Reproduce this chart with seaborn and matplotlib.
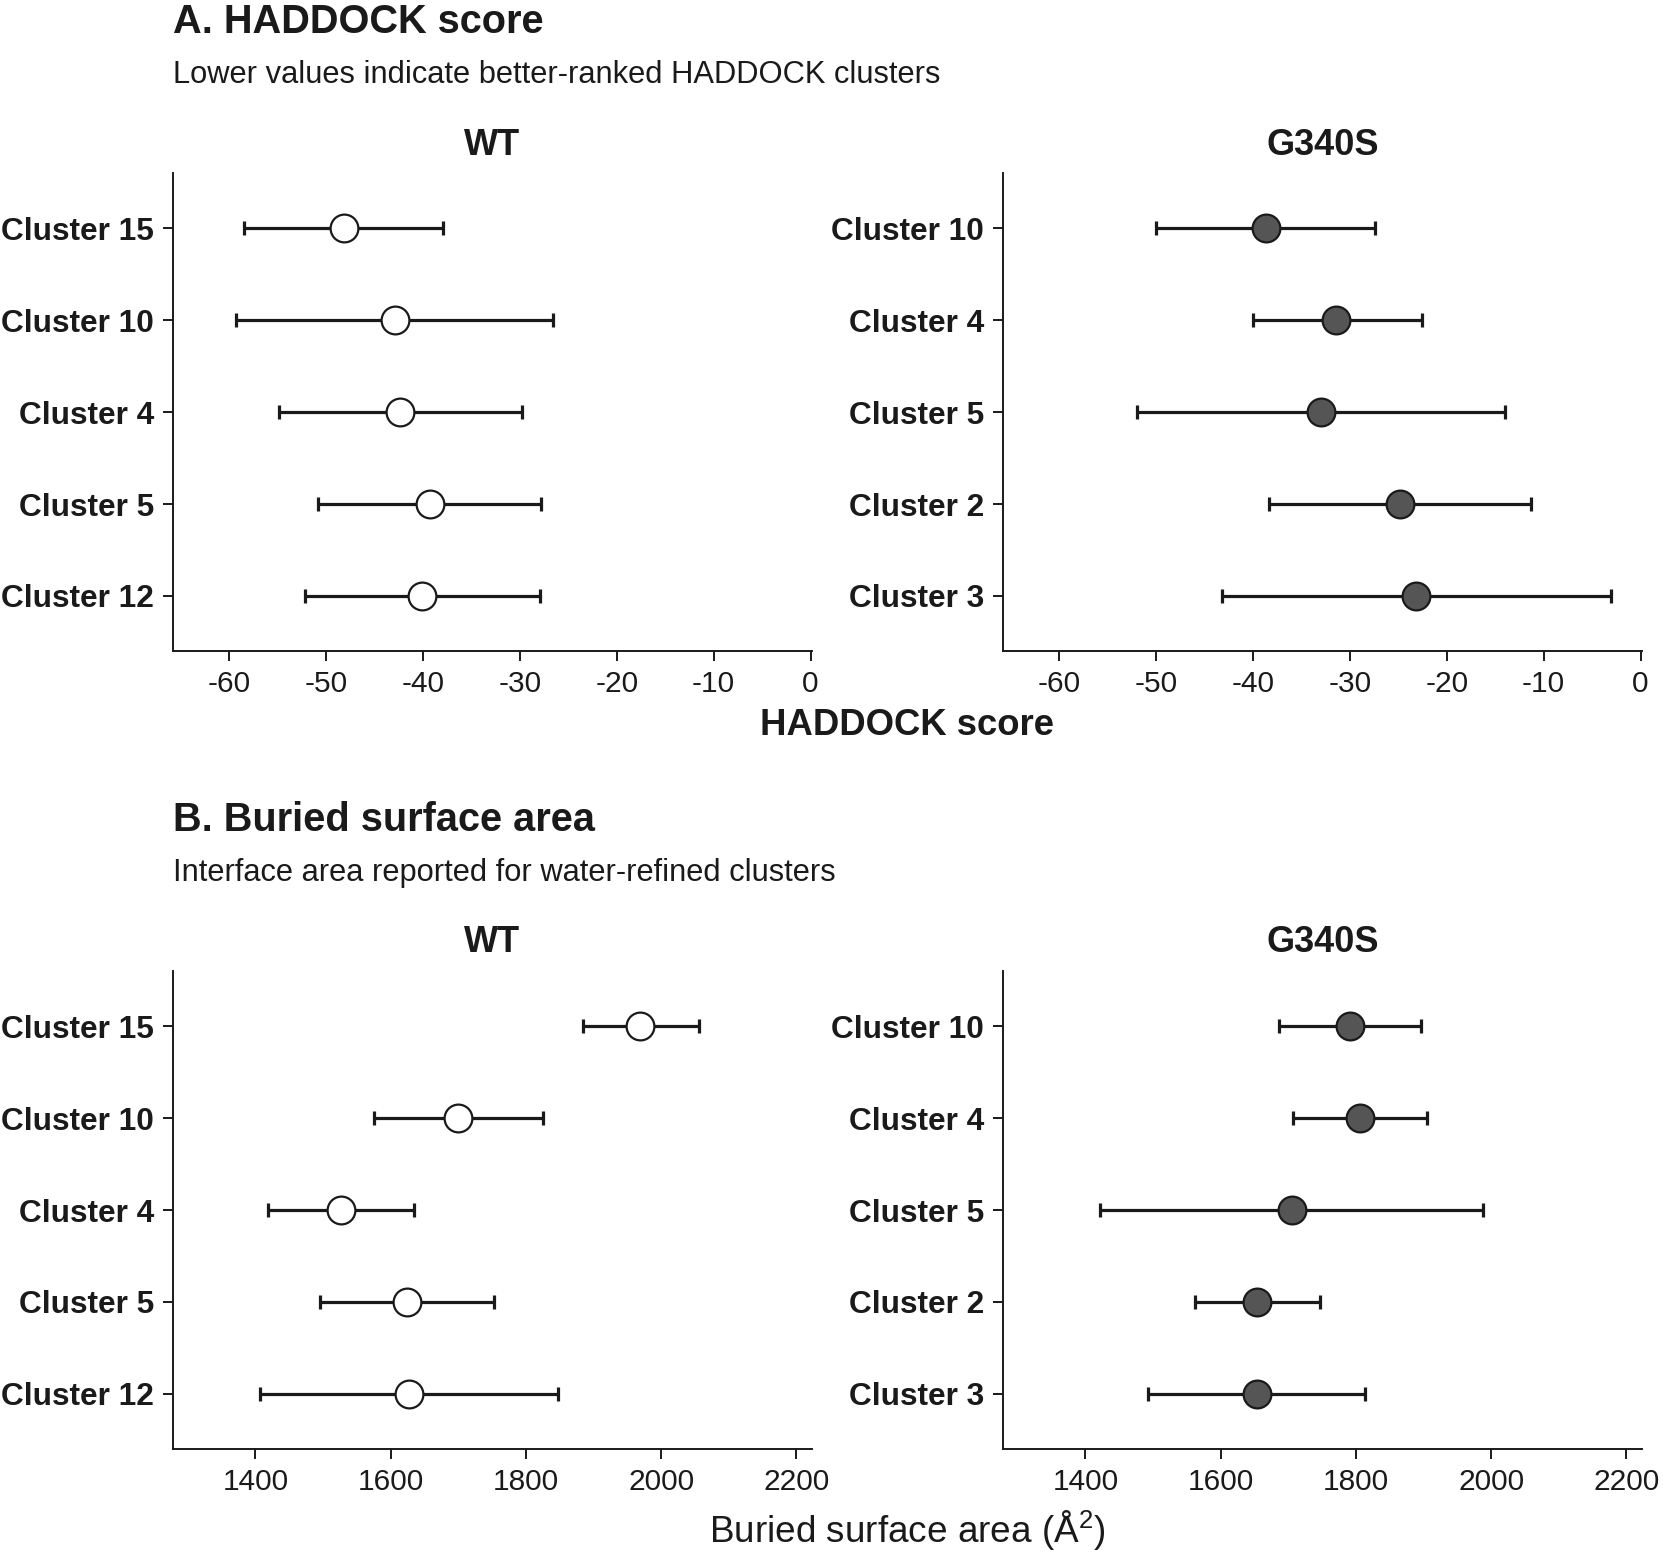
import numpy as np
import pandas as pd
import matplotlib
matplotlib.use("Agg")
import matplotlib.pyplot as plt
import seaborn as sns

# ---------------- data ----------------
wt_clusters = ["Cluster 15", "Cluster 10", "Cluster 4", "Cluster 5", "Cluster 12"]
mut_clusters = ["Cluster 10", "Cluster 4", "Cluster 5", "Cluster 2", "Cluster 3"]

haddock_wt_mean = [-48.2, -42.9, -42.4, -39.3, -40.1]
haddock_wt_lo = [-58.5, -59.3, -54.9, -50.8, -52.2]
haddock_wt_hi = [-37.9, -26.6, -29.8, -27.8, -27.9]

haddock_mut_mean = [-38.7, -31.4, -33.0, -24.8, -23.2]
haddock_mut_lo = [-50.0, -40.0, -52.0, -38.3, -43.2]
haddock_mut_hi = [-27.4, -22.6, -14.0, -11.3, -3.1]

bsa_wt_mean = [1969, 1700, 1526, 1624, 1627]
bsa_wt_lo = [1884, 1575, 1419, 1496, 1406]
bsa_wt_hi = [2056, 1825, 1634, 1752, 1848]

bsa_mut_mean = [1791, 1806, 1705, 1653, 1653]
bsa_mut_lo = [1686, 1707, 1422, 1562, 1493]
bsa_mut_hi = [1896, 1905, 1988, 1747, 1813]

haddock_ticks = [-60, -50, -40, -30, -20, -10, 0]
bsa_ticks = [1400, 1600, 1800, 2000, 2200]

# ---------------- style ----------------
sns.set_theme(style="ticks")
TXT = "#1a1a1a"
plt.rcParams["font.family"] = ["Liberation Sans", "DejaVu Sans"]
plt.rcParams["axes.unicode_minus"] = False
plt.rcParams["mathtext.fontset"] = "custom"
plt.rcParams["mathtext.rm"] = "Liberation Sans"
plt.rcParams["mathtext.it"] = "Liberation Sans:italic"
plt.rcParams["mathtext.bf"] = "Liberation Sans:bold"

W, H = 1665, 1552
fig = plt.figure(figsize=(W / 100, H / 100), dpi=100)
fig.patch.set_facecolor("white")


def fx(px):
    return px / W


def fy(px):
    return 1 - px / H


def panel(rect, clusters, mean, lo, hi, fill, xlim, ticks, title):
    ax = fig.add_axes(rect)
    df = pd.DataFrame({"cluster": clusters, "mean": mean, "lo": lo, "hi": hi})
    df["pos"] = np.arange(len(df))
    ax.errorbar(df["mean"], df["pos"],
                xerr=[df["mean"] - df["lo"], df["hi"] - df["mean"]],
                fmt="none", ecolor=TXT, elinewidth=2.3, capsize=4.8,
                capthick=2.3, zorder=2)
    sns.scatterplot(data=df, x="mean", y="pos", s=400, color=fill,
                    edgecolor=TXT, linewidth=1.6, zorder=3, ax=ax,
                    legend=False)
    ax.set_yticks(df["pos"])
    ax.set_yticklabels(df["cluster"], fontweight="bold", fontsize=22.8, color=TXT)
    ax.set_ylim(len(df) - 0.4, -0.6)
    ax.set_xlim(*xlim)
    ax.set_xticks(ticks)
    ax.set_xticklabels([str(t) for t in ticks], fontsize=21.5, color=TXT)
    ax.set_xlabel("")
    ax.set_ylabel("")
    ax.set_title(title, fontsize=26, fontweight="bold", color=TXT, pad=13.5)
    sns.despine(ax=ax)
    for sp in ["left", "bottom"]:
        ax.spines[sp].set_linewidth(1.4)
        ax.spines[sp].set_color(TXT)
    ax.tick_params(axis="both", length=7, width=1.4, color=TXT, pad=6.5)
    ax.set_facecolor("white")
    return ax


# axes rectangles (figure fractions)
wt_left, mut_left = 173, 1003
ax_w = 639
a_top, a_bot = 173.3, 651
b_top, b_bot = 971, 1449

rect_a_wt = [fx(wt_left), fy(a_bot), fx(ax_w), (a_bot - a_top) / H]
rect_a_mut = [fx(mut_left), fy(a_bot), fx(ax_w), (a_bot - a_top) / H]
rect_b_wt = [fx(wt_left), fy(b_bot), fx(ax_w), (b_bot - b_top) / H]
rect_b_mut = [fx(mut_left), fy(b_bot), fx(ax_w), (b_bot - b_top) / H]

lim_a = (-65.8, 0.15)
lim_b = (1278, 2223)

panel(rect_a_wt, wt_clusters, haddock_wt_mean, haddock_wt_lo, haddock_wt_hi,
      "white", lim_a, haddock_ticks, "WT")
panel(rect_a_mut, mut_clusters, haddock_mut_mean, haddock_mut_lo, haddock_mut_hi,
      "#555555", lim_a, haddock_ticks, "G340S")
panel(rect_b_wt, wt_clusters, bsa_wt_mean, bsa_wt_lo, bsa_wt_hi,
      "white", lim_b, bsa_ticks, "WT")
panel(rect_b_mut, mut_clusters, bsa_mut_mean, bsa_mut_lo, bsa_mut_hi,
      "#555555", lim_b, bsa_ticks, "G340S")

# headings
fig.text(fx(173), fy(33), "A. HADDOCK score", fontsize=28.6, fontweight="bold",
         color=TXT, ha="left", va="baseline")
fig.text(fx(173), fy(83), "Lower values indicate better-ranked HADDOCK clusters",
         fontsize=22.2, color=TXT, ha="left", va="baseline")
fig.text(fx(173), fy(831), "B. Buried surface area", fontsize=28.6, fontweight="bold",
         color=TXT, ha="left", va="baseline")
fig.text(fx(173), fy(881), "Interface area reported for water-refined clusters",
         fontsize=22.2, color=TXT, ha="left", va="baseline")

# shared x labels
xc = fx((wt_left + mut_left + ax_w) / 2)
fig.text(xc, fy(735), "HADDOCK score", fontsize=26.3, fontweight="bold",
         color=TXT, ha="center", va="baseline")
fig.text(xc, fy(1543), "Buried surface area (Å$^{2}$)", fontsize=26.6,
         color=TXT, ha="center", va="baseline")

fig.savefig("out.png", dpi=100, facecolor="white")
